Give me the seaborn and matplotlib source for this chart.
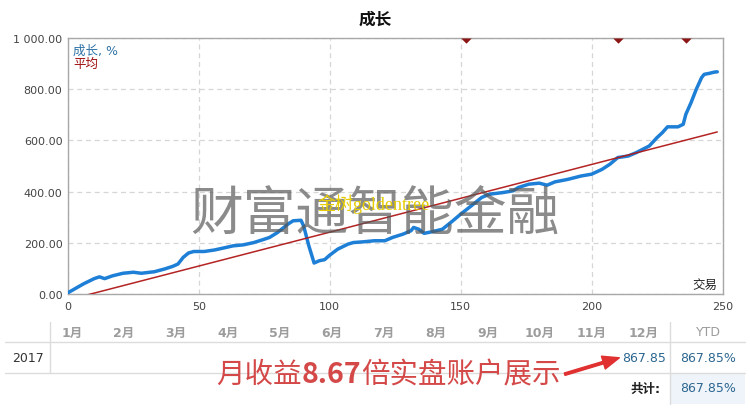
import matplotlib
matplotlib.use("Agg")
import matplotlib.pyplot as plt
import seaborn as sns
import pandas as pd
import numpy as np
from matplotlib.patches import Rectangle, FancyArrowPatch
from matplotlib.lines import Line2D

# ---------------- data ----------------
trade = [0, 6, 10, 12, 14, 17, 21, 25, 28, 33, 37, 40, 42, 44, 46, 48, 52, 56, 60, 63,
         67, 71, 75, 77, 80, 84, 86, 89, 90, 92, 94, 96, 98, 100, 103, 107, 109, 113, 117,
         121, 124, 128, 131, 132, 134, 136, 139, 143, 147, 150, 154, 158, 161, 166, 170,
         172, 176, 180, 183, 186, 191, 196, 200, 204, 207, 210, 214, 217, 222, 225, 227,
         229, 233, 235, 236, 238, 240, 242, 243, 245, 247, 248]
growth = [5, 40, 60, 67, 60, 71, 81, 85, 81, 87, 98, 108, 117, 143, 160, 166, 166, 172, 181, 188,
          192, 201, 214, 221, 240, 273, 286, 288, 266, 188, 121, 130, 134, 152, 175, 195, 201, 204, 208,
          208, 221, 234, 247, 260, 253, 237, 243, 253, 286, 312, 344, 377, 390, 396, 403,
          416, 429, 433, 425, 438, 448, 461, 468, 487, 507, 533, 539, 552, 578, 611, 630,
          653, 653, 663, 702, 748, 800, 845, 858, 862, 867, 867.85]
avg_trade = [0, 248]
avg_value = [-23, 633]
marker_trades = [152, 210, 236]
xticks = [0, 50, 100, 150, 200, 250]
yticks = [0, 200, 400, 600, 800, 1000]
ytick_labels = ["0.00", "200.00", "400.00", "600.00", "800.00", "1 000.00"]
months = ["1月", "2月", "3月", "4月", "5月", "6月", "7月", "8月", "9月", "10月", "11月", "12月"]
year_label = "2017"
dec_value = "867.85"
ytd_label = "YTD"
ytd_value = "867.85%"
total_label = "共计:"
title = "成长"
legend_growth = "成长, %"
legend_avg = "平均"
trades_label = "交易"
watermark = "财富通智能金融"
watermark2 = "金树goldentree"
promo_parts = ["月收益", "8.67", "倍实盘账户展示"]

# ---------------- style ----------------
sns.set_theme(style="white")
plt.rcParams['font.family'] = ['DejaVu Sans', 'Noto Sans CJK SC']

W, H = 750, 410
fig = plt.figure(figsize=(7.5, 4.1), dpi=100)
fig.patch.set_facecolor('white')


def fx(px):
    return px / W


def fy(py):
    return 1 - py / H


ax = fig.add_axes([fx(68), fy(295), (722.5 - 68) / W, (295 - 39) / H])

df = pd.DataFrame({'trade': trade, 'growth': growth})
sns.lineplot(data=df, x='trade', y='growth', ax=ax, color='#1e7fd6', lw=2.5, zorder=3)
sns.lineplot(x=avg_trade, y=avg_value, ax=ax, color='#b01818', lw=1.1, zorder=4, alpha=0.95)

ax.plot(marker_trades, [1000] * len(marker_trades), ls='none',
        marker=[(-1, 0), (1, 0), (0, -1), (-1, 0)], markersize=7.5, color='#8b1414',
        markeredgewidth=0, clip_on=True, zorder=5)

ax.set_xlim(0, 250)
ax.set_ylim(0, 1000)
ax.set_xticks(xticks)
ax.set_yticks(yticks, ytick_labels)
ax.set(xlabel='', ylabel='')
ax.tick_params(axis='both', colors='#444444', labelsize=8, length=0)
ax.tick_params(axis='x', pad=5)
ax.tick_params(axis='y', pad=4)
ax.grid(True, ls=(0, (4, 3)), color='#d6d6d6', lw=0.9)
ax.set_axisbelow(True)
for sp in ax.spines.values():
    sp.set_color('#a8a8a8')
    sp.set_linewidth(1)

# titles / legend text
fig.text(fx(375), fy(20), title, ha='center', va='center', fontsize=12, fontweight='bold',
         color='#111111')
fig.text(fx(73), fy(51), legend_growth, ha='left', va='center', fontsize=9, color='#2f73a6')
fig.text(fx(73), fy(64), legend_avg, ha='left', va='center', fontsize=9, color='#a01010')
fig.text(fx(717), fy(285), trades_label, ha='right', va='center', fontsize=9, color='#222222')

# watermarks
fig.text(fx(375), fy(214), watermark, ha='center', va='center', fontsize=38,
         color='#555555', alpha=0.68, family=['Noto Sans CJK SC'], fontweight='light', zorder=10)
fig.text(fx(374), fy(204), watermark2, ha='center', va='center', fontsize=13,
         color='#e6cc00', family=['Liberation Serif', 'Noto Sans CJK SC'], zorder=11)

# ---------------- table ----------------
tf = fig.transFigure
fig.add_artist(Rectangle((fx(670), fy(405)), fx(745) - fx(670), fy(374) - fy(405),
                         transform=tf, facecolor='#eef4fa', edgecolor='none', zorder=1))
for py in (343, 374):
    fig.add_artist(Line2D([fx(5), fx(745)], [fy(py), fy(py)], transform=tf,
                          color='#dcdcdc', lw=1, zorder=2))
fig.add_artist(Line2D([fx(50), fx(50)], [fy(323), fy(374)], transform=tf,
                      color='#dcdcdc', lw=1, zorder=2))
fig.add_artist(Line2D([fx(670), fx(670)], [fy(323), fy(405)], transform=tf,
                      color='#dcdcdc', lw=1, zorder=2))

month_x = np.linspace(72, 644, len(months))
for m, mx in zip(months, month_x):
    fig.text(fx(mx), fy(333), m, ha='center', va='center', fontsize=9, color='#9c9c9c',
             fontweight='bold')
fig.text(fx(708), fy(333), ytd_label, ha='center', va='center', fontsize=9, color='#9c9c9c')
fig.text(fx(28), fy(359), year_label, ha='center', va='center', fontsize=9, color='#333333')
fig.text(fx(month_x[-1]), fy(359), dec_value, ha='center', va='center', fontsize=9,
         color='#2c6690')
fig.text(fx(708), fy(359), ytd_value, ha='center', va='center', fontsize=9, color='#2c6690')
fig.text(fx(645), fy(389), total_label, ha='center', va='center', fontsize=9,
         color='#222222', fontweight='bold')
fig.text(fx(708), fy(389), ytd_value, ha='center', va='center', fontsize=9, color='#2c6690')

# promo overlay text
fig.canvas.draw()
renderer = fig.canvas.get_renderer()
cur_x = 216
weights = ['light', 'bold', 'light']
for part, wgt in zip(promo_parts, weights):
    t = fig.text(fx(cur_x), fy(375), part, ha='left', va='center', fontsize=20.5,
                 color='#d44848', fontweight=wgt, family=['Noto Sans CJK SC'], zorder=12)
    bb = t.get_window_extent(renderer)
    cur_x += bb.width

arrow = FancyArrowPatch((fx(562), fy(376)), (fx(622), fy(358)), transform=tf,
                        arrowstyle='simple,head_length=1.0,head_width=0.8,tail_width=0.15',
                        mutation_scale=12, color='#e03030', zorder=12)
fig.add_artist(arrow)

fig.savefig('out.png', dpi=100, facecolor='white')
